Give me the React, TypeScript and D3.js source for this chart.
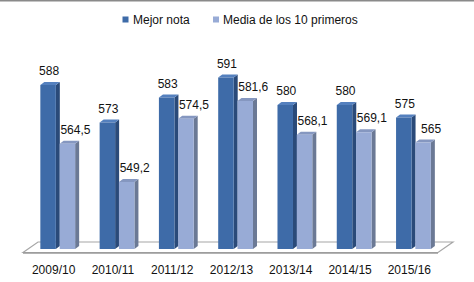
import React from "react";
import * as d3 from "d3";

const categories = ["2009/10", "2010/11", "2011/12", "2012/13", "2013/14", "2014/15", "2015/16"];
const mejorNota = [588, 573, 583, 591, 580, 580, 575];
const media10 = [564.5, 549.2, 574.5, 581.6, 568.1, 569.1, 565];
const seriesNames = ["Mejor nota", "Media de los 10 primeros"];
const valueLabelsDark = ["588", "573", "583", "591", "580", "580", "575"];
const valueLabelsLight = ["564,5", "549,2", "574,5", "581,6", "568,1", "569,1", "565"];

const W = 474;
const H = 282;
const FONT = "'Liberation Sans', Arial, sans-serif";

const colors = {
  dark: { front: "#3E6BA8", side: "#2A4A79", top: "#5480BE" },
  light: { front: "#98ABD6", side: "#6B7995", top: "#8597C0" },
};

export default function App() {
  const x = d3.scaleBand<string>().domain(categories).range([28, 443]);
  const y = d3.scaleLinear().domain([520, 600]).range([255, 55]);
  const base = 249;
  const dx = 4;
  const dy = 3;
  const barW = 15.5;

  const bar = (x0: number, v: number, c: { front: string; side: string; top: string }, key: string) => {
    const t = y(v);
    const side = `M${x0 + barW},${t} L${x0 + barW + dx},${t - dy} L${x0 + barW + dx},${base - dy} L${x0 + barW},${base} Z`;
    const top = `M${x0},${t} L${x0 + dx},${t - dy} L${x0 + barW + dx},${t - dy} L${x0 + barW},${t} Z`;
    return (
      <g key={key}>
        <path d={side} fill={c.side} />
        <path d={top} fill={c.top} />
        <rect x={x0} y={t} width={barW} height={base - t} fill={c.front} />
      </g>
    );
  };

  const floor = "M23,252.5 L38,242 L453,242 L438,252.5 Z";

  return (
    <svg width={W} height={H} style={{ position: "absolute", left: 0, top: 0, background: "#fff" }} fontFamily={FONT}>
      <rect x={0} y={0} width={W} height={H} fill="#fff" />
      <line x1={0} x2={W} y1={0.5} y2={0.5} stroke="#8a8a8a" strokeWidth={2} />
      {/* legend */}
      <rect x={122.5} y={16.5} width={6} height={6} fill={colors.dark.front} />
      <text x={133} y={23.5} fontSize={12} fill="#111">{seriesNames[0]}</text>
      <rect x={213} y={16.5} width={6} height={6} fill={colors.light.front} />
      <text x={223} y={23.5} fontSize={12} fill="#111">{seriesNames[1]}</text>
      {/* floor */}
      <path d={floor} fill="#fff" stroke="#a6a6a6" strokeWidth={1.2} />
      <line x1={23} x2={438} y1={253} y2={253} stroke="#9a9a9a" strokeWidth={1.5} />
      {categories.map((c, i) => {
        const cx = (x(c) as number) + x.bandwidth() / 2;
        const xd = cx - 17.3;
        const xl = cx + 2;
        return (
          <g key={c}>
            {bar(xd, mejorNota[i], colors.dark, "d")}
            {bar(xl, media10[i], colors.light, "l")}
            <text x={xd + barW / 2 + 1} y={y(mejorNota[i]) - 10} fontSize={12} textAnchor="middle" fill="#111">
              {valueLabelsDark[i]}
            </text>
            <text x={xl + barW / 2 + 8} y={y(media10[i]) - 10} fontSize={12} textAnchor="middle" fill="#111">
              {valueLabelsLight[i]}
            </text>
            <text x={cx - 4} y={274} fontSize={12} textAnchor="middle" fill="#111">
              {c}
            </text>
          </g>
        );
      })}
    </svg>
  );
}
